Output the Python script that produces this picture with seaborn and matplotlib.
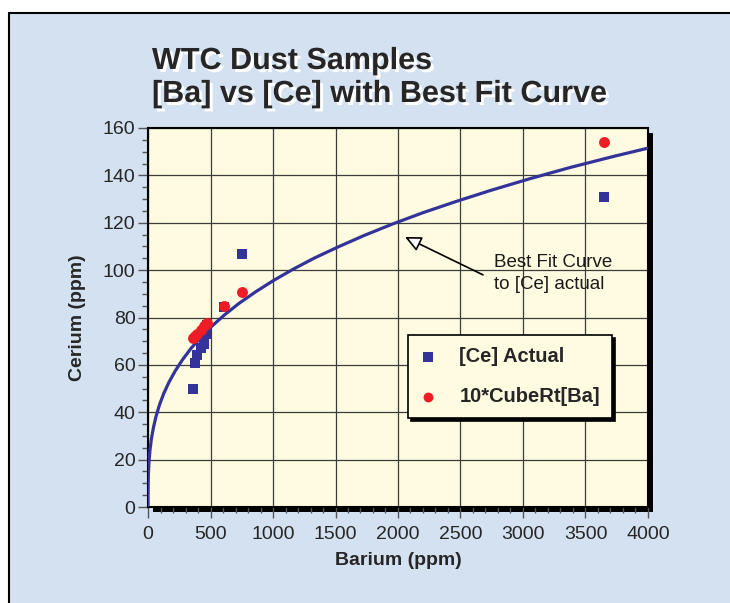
import pandas as pd
import matplotlib
matplotlib.use("Agg")
import matplotlib.pyplot as plt
import matplotlib.patheffects as pe
from matplotlib.patches import Rectangle
from matplotlib.ticker import MultipleLocator
import seaborn as sns

# values
barium = [363, 376, 390, 420, 445, 460, 470, 611, 750, 3650]
ce_actual = [50, 61, 64, 67, 69, 73, 77, 84.5, 107, 131]
ce_cuberoot = [71.3, 72.2, 73.1, 74.9, 76.3, 77.2, 77.8, 84.9, 90.9, 154.0]

# best fit curve
fit_ba = [0, 0.125, 1, 3.4, 8, 15.6, 27, 42.9, 64, 91, 125, 166, 216, 275, 343, 422, 512,
          614, 729, 857, 1000, 1158, 1331, 1521, 1728, 1953, 2197, 2460, 2744, 3049, 3375, 3724, 4000]
fit_ce = [0, 4.8, 9.6, 14.3, 19.1, 23.9, 28.7, 33.4, 38.2, 43.0, 47.8, 52.5, 57.3, 62.1, 66.9, 71.6, 76.4,
          81.2, 86.0, 90.7, 95.5, 100.3, 105.1, 109.8, 114.6, 119.4, 124.2, 128.9, 133.7, 138.5, 143.3, 148.0, 151.5]

BLUE = "#333399"
RED = "#EE1C25"
PANEL = "#D4E1F1"
CREAM = "#FFFBE0"

sns.set_style("ticks")
plt.rcParams["font.family"] = ["Liberation Sans", "DejaVu Sans"]

W, H = 730, 603
fig = plt.figure(figsize=(W / 100, H / 100), dpi=100, facecolor="white")

# outer panel and the drop shadow behind the plot area
fig.patches.append(Rectangle((9 / W, -0.02), 1.0, (H - 13) / H + 0.02, transform=fig.transFigure,
                             facecolor=PANEL, edgecolor="black", lw=1.5, zorder=-2))
ax_l, ax_b, ax_w, ax_h = 148 / W, 96 / H, 500 / W, 379 / H
fig.patches.append(Rectangle((ax_l + 5 / W, ax_b - 5 / H), ax_w, ax_h, transform=fig.transFigure,
                             facecolor="black", edgecolor="none", zorder=-1))

ax = fig.add_axes([ax_l, ax_b, ax_w, ax_h])
ax.set_facecolor(CREAM)

fit = pd.DataFrame({"Barium": fit_ba, "Cerium": fit_ce})
sns.lineplot(data=fit, x="Barium", y="Cerium", ax=ax, color=BLUE, lw=2.3, estimator=None, sort=False, zorder=3)

pts = pd.DataFrame({"Barium": barium, "actual": ce_actual, "cube": ce_cuberoot})
sns.scatterplot(data=pts, x="Barium", y="actual", ax=ax, marker="s", color=BLUE, s=55,
                linewidth=0, label="[Ce] Actual", zorder=4)
sns.scatterplot(data=pts, x="Barium", y="cube", ax=ax, marker="o", color=RED, s=62,
                linewidth=0, label="10*CubeRt[Ba]", zorder=5)

ax.set_xlim(0, 4000)
ax.set_ylim(0, 160)
ax.xaxis.set_major_locator(MultipleLocator(500))
ax.xaxis.set_minor_locator(MultipleLocator(100))
ax.yaxis.set_major_locator(MultipleLocator(20))
ax.yaxis.set_minor_locator(MultipleLocator(5))
ax.grid(True, which="major", color="#3c3c3c", lw=0.9)
ax.set_axisbelow(True)
for s in ax.spines.values():
    s.set_color("black")
    s.set_linewidth(1.5)
ax.tick_params(which="major", direction="out", length=7, width=1, color="#555555",
               labelsize=14, pad=2)
ax.tick_params(which="minor", direction="out", length=4, width=1, color="#555555")
ax.tick_params(axis="x", which="major", length=8, pad=6)

ax.set_xlabel("Barium (ppm)", fontsize=14, fontweight="bold", labelpad=6)
ax.set_ylabel("Cerium (ppm)", fontsize=14, fontweight="bold", labelpad=12)

ax.annotate("", xy=(2056, 114), xytext=(2680, 98),
            arrowprops=dict(arrowstyle="-|>,head_length=0.7,head_width=0.33", mutation_scale=14,
                            fc="white", ec="black", lw=1.2, shrinkA=0, shrinkB=0), zorder=6)
ax.text(2770, 107, "Best Fit Curve\nto [Ce] actual", ha="left", va="top", fontsize=13.5,
        linespacing=1.45, color="#1a1a1a", zorder=6)

leg = ax.legend(loc="upper left", bbox_to_anchor=(0.52, 0.454), frameon=True, fancybox=False,
                shadow={"color": "black", "alpha": 1}, prop={"weight": "bold", "size": 14.5},
                handlelength=0.8, handletextpad=1.15, labelspacing=1.05, borderpad=0.6,
                borderaxespad=0, markerscale=0.9)
leg.get_frame().set_facecolor(CREAM)
leg.get_frame().set_edgecolor("black")
leg.get_frame().set_linewidth(1.2)
leg.get_frame().set_alpha(1)
leg.set_zorder(7)

shadow = [pe.withSimplePatchShadow(offset=(2.2, -2.2), shadow_rgbFace="white", alpha=1.0)]
fig.text(152 / W, (H - 69) / H, "WTC Dust Samples", fontsize=22, fontweight="bold",
         va="baseline", ha="left", path_effects=shadow)
fig.text(152 / W, (H - 102) / H, "[Ba] vs [Ce] with Best Fit Curve", fontsize=22, fontweight="bold",
         va="baseline", ha="left", path_effects=shadow)

fig.savefig("out.png", dpi=100, facecolor=fig.get_facecolor())
